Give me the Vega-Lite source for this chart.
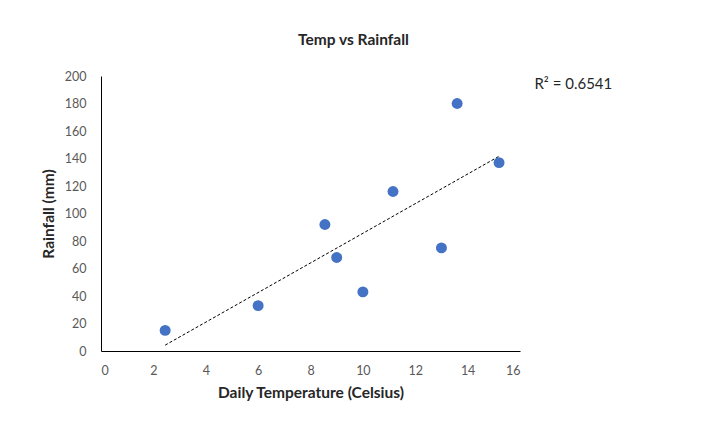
{
  "$schema": "https://vega.github.io/schema/vega-lite/v6.json",
  "width": 419,
  "height": 275,
  "autosize": "none",
  "padding": {"left": 101, "top": 76, "right": 186, "bottom": 81},
  "background": "white",
  "config": {
    "view": {"stroke": null},
    "font": "Lato",
    "axis": {
      "grid": false,
      "ticks": false,
      "labelOverlap": false,
      "domainColor": "#000000",
      "labelColor": "#595959",
      "labelFontSize": 12.5,
      "titleFontSize": 15.5,
      "titleFontWeight": "bold",
      "titleColor": "#262626"
    }
  },
  "title": {
    "text": "Temp vs Rainfall",
    "anchor": "middle",
    "dx": 43,
    "offset": 22,
    "fontSize": 15.5,
    "fontWeight": "bold",
    "color": "#262626",
    "font": "Lato"
  },
  "datasets": {
    "readings": [
      {"temp": 2.45, "rain": 15},
      {"temp": 6.0, "rain": 33},
      {"temp": 8.55, "rain": 92},
      {"temp": 9.0, "rain": 68},
      {"temp": 10.0, "rain": 43},
      {"temp": 11.15, "rain": 116},
      {"temp": 13.0, "rain": 75},
      {"temp": 13.6, "rain": 180},
      {"temp": 15.2, "rain": 137}
    ],
    "fitLabel": [
      {"label": "R² = 0.6541"}
    ]
  },
  "layer": [
    {
      "data": {"name": "readings"},
      "transform": [{"regression": "rain", "on": "temp"}],
      "mark": {"type": "line", "color": "#000000", "strokeWidth": 1, "strokeDash": [3, 2]},
      "encoding": {
        "x": {
          "field": "temp",
          "type": "quantitative",
          "title": "Daily Temperature (Celsius)",
          "scale": {"domain": [0, 16], "nice": false, "zero": true},
          "axis": {
            "values": [0, 2, 4, 6, 8, 10, 12, 14, 16],
            "labelOverlap": false,
            "labelPadding": 13,
            "titlePadding": 9
          }
        },
        "y": {
          "field": "rain",
          "type": "quantitative",
          "title": "Rainfall (mm)",
          "scale": {"domain": [0, 200], "nice": false},
          "axis": {
            "values": [0, 20, 40, 60, 80, 100, 120, 140, 160, 180, 200],
            "labelOverlap": false,
            "labelPadding": 15,
            "titlePadding": 8
          }
        }
      }
    },
    {
      "data": {"name": "readings"},
      "mark": {"type": "circle", "size": 120, "opacity": 1, "color": "#4472C4"},
      "encoding": {
        "x": {
          "field": "temp",
          "type": "quantitative",
          "title": "Daily Temperature (Celsius)",
          "scale": {"domain": [0, 16], "nice": false, "zero": true},
          "axis": {
            "values": [0, 2, 4, 6, 8, 10, 12, 14, 16],
            "labelOverlap": false,
            "labelPadding": 13,
            "titlePadding": 9
          }
        },
        "y": {
          "field": "rain",
          "type": "quantitative",
          "title": "Rainfall (mm)",
          "scale": {"domain": [0, 200], "nice": false},
          "axis": {
            "values": [0, 20, 40, 60, 80, 100, 120, 140, 160, 180, 200],
            "labelOverlap": false,
            "labelPadding": 15,
            "titlePadding": 8
          }
        }
      }
    },
    {
      "data": {"name": "fitLabel"},
      "mark": {"type": "text", "font": "Lato", "fontSize": 15, "fontWeight": 400, "color": "#262626", "align": "left", "baseline": "middle"},
      "encoding": {
        "text": {"field": "label", "type": "nominal"},
        "x": {
          "datum": 16.55,
          "type": "quantitative",
          "title": "Daily Temperature (Celsius)",
          "axis": {
            "values": [0, 2, 4, 6, 8, 10, 12, 14, 16],
            "labelOverlap": false,
            "labelPadding": 13,
            "titlePadding": 9
          }
        },
        "y": {
          "datum": 194,
          "type": "quantitative",
          "title": "Rainfall (mm)",
          "axis": {
            "values": [0, 20, 40, 60, 80, 100, 120, 140, 160, 180, 200],
            "labelOverlap": false,
            "labelPadding": 15,
            "titlePadding": 8
          }
        }
      }
    }
  ]
}
